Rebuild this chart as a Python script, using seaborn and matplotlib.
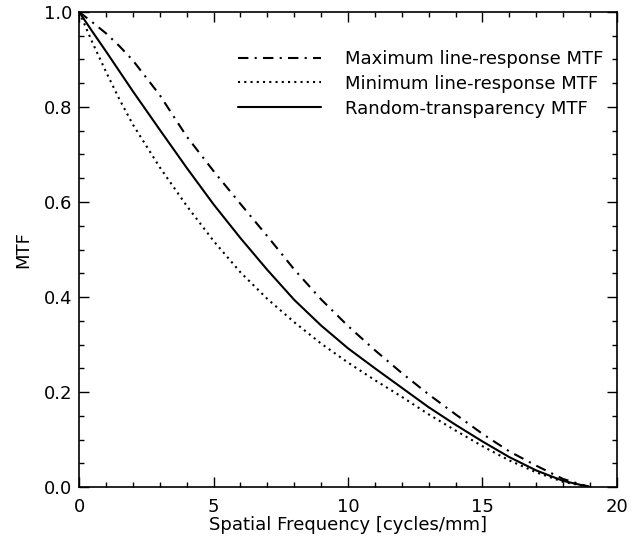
import numpy as np
import pandas as pd
import seaborn as sns
import matplotlib.pyplot as plt
from matplotlib.ticker import MultipleLocator

# spatial frequency [cycles/mm]
freq = [0, 0.5, 1, 1.5, 2, 3, 4, 5, 6, 7, 8, 9, 10, 11, 12, 13, 14, 15, 16, 17, 18, 19]

# MTF values
mtf_max = [1.0, 0.978, 0.955, 0.928, 0.898, 0.825, 0.738, 0.665, 0.596, 0.528, 0.458, 0.395,
           0.339, 0.288, 0.24, 0.195, 0.153, 0.112, 0.075, 0.045, 0.017, 0.0]
mtf_min = [1.0, 0.935, 0.874, 0.816, 0.763, 0.673, 0.592, 0.518, 0.452, 0.396, 0.347, 0.302,
           0.262, 0.225, 0.19, 0.153, 0.119, 0.086, 0.056, 0.031, 0.011, 0.0]
mtf_rand = [1.0, 0.958, 0.917, 0.875, 0.833, 0.752, 0.672, 0.595, 0.524, 0.457, 0.394, 0.34,
            0.292, 0.25, 0.209, 0.168, 0.131, 0.096, 0.063, 0.035, 0.013, 0.0]

labels = ['Maximum line-response MTF', 'Minimum line-response MTF',
          'Random-transparency MTF']

df = pd.concat([
    pd.DataFrame({'freq': freq, 'mtf': mtf_max, 'curve': labels[0]}),
    pd.DataFrame({'freq': freq, 'mtf': mtf_min, 'curve': labels[1]}),
    pd.DataFrame({'freq': freq, 'mtf': mtf_rand, 'curve': labels[2]}),
])

sns.set_theme(style="ticks")
plt.rcParams['font.family'] = ['DejaVu Sans']
plt.rcParams['text.color'] = 'black'
plt.rcParams['axes.labelcolor'] = 'black'

fig = plt.figure(figsize=(6.38, 5.43), dpi=100)
ax = fig.add_axes([0.124, 0.103, 0.843, 0.875])

styles = {labels[0]: (0, (5, 3, 1, 3)), labels[1]: (0, (1, 2)), labels[2]: '-'}
for lab in labels:
    sub = df[df['curve'] == lab]
    sns.lineplot(data=sub, x='freq', y='mtf', ax=ax, color='black', lw=1.5,
                 linestyle=styles[lab], label=lab, estimator=None, sort=False)

ax.set_xlim(0, 20)
ax.set_ylim(0, 1.0)
ax.xaxis.set_major_locator(MultipleLocator(5))
ax.xaxis.set_minor_locator(MultipleLocator(1))
ax.yaxis.set_major_locator(MultipleLocator(0.2))
ax.yaxis.set_minor_locator(MultipleLocator(0.05))
ax.yaxis.set_major_formatter(plt.FormatStrFormatter('%.1f'))
ax.tick_params(which='both', direction='in', top=True, right=True, labelsize=13,
               color='black', labelcolor='black', width=1.0)
ax.tick_params(which='major', length=7)
ax.tick_params(which='minor', length=3.5)
ax.tick_params(axis='x', which='both', pad=8)
ax.tick_params(axis='y', which='both', pad=5)
for sp in ax.spines.values():
    sp.set_linewidth(1.2)
    sp.set_color('black')

ax.set_xlabel('Spatial Frequency [cycles/mm]', fontsize=13, labelpad=0)
ax.set_ylabel('MTF', fontsize=13, labelpad=8)

ax.legend(loc='upper left', bbox_to_anchor=(0.296, 0.92), frameon=False,
          fontsize=13, handlelength=4.6, handletextpad=1.3, labelspacing=0.38,
          borderpad=0, borderaxespad=0)

fig.savefig('out.png', dpi=100)
